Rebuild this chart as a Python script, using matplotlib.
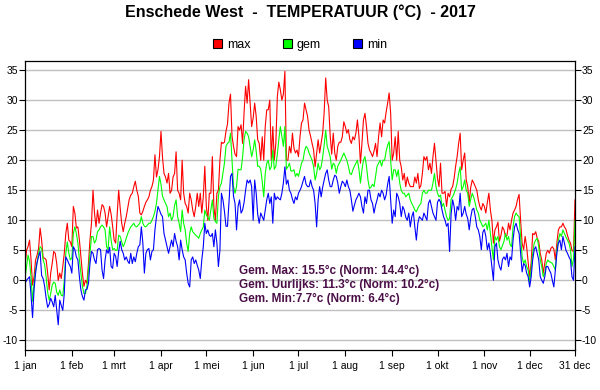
import matplotlib
matplotlib.use('Agg')
import matplotlib.pyplot as plt
from matplotlib.patches import Patch
import numpy as np

# ---- data (daily values, 2017) ----
max_t = [
    2.3, 5, 5.6, 6.7, 3.4, -0.8, 0.6, 3.4, 4.2, 5.3,
    8.7, 6.7, 3.7, 3.7, 3.4, 1.2, -1.6, 1.2, 2.8, 4.8,
    4.5, 2.8, 0, 1.2, 0.3, 2.3, 4.5, 7.8, 9.5, 6.7,
    6.4, 5.6, 12.3, 11.2, 8.7, 8.9, 6.7, 3.9, 1.2, -1,
    0, -0.5, 2.8, 6.7, 9.5, 15, 11.2, 8.9, 11.7, 9.5,
    11.2, 12.6, 12.3, 11.2, 8.9, 10.6, 12.3, 11, 9, 6.7,
    6.2, 11, 15, 12, 9.5, 8.1, 9.5, 10.6, 12, 13.5,
    14.2, 14.5, 15.6, 16.5, 15, 14, 11.2, 10.9, 11.5, 12.3,
    13, 13.4, 13.9, 15, 15.6, 16.7, 20.9, 17.2, 18.4, 20.6,
    24.8, 20.5, 17.8, 17.2, 16.2, 17.8, 14.5, 15, 17.2, 17.8,
    21.4, 15, 14.5, 13.4, 20, 14.5, 12.8, 12.3, 11.2, 14.5,
    13.4, 11.7, 10.6, 12.3, 14.5, 12.3, 14.5, 11.2, 13.9, 19,
    12.3, 10, 14.5, 14.5, 20.6, 12.3, 10, 14.5, 15, 20,
    23, 22.8, 23, 24.8, 26, 29.5, 31, 24, 22.3, 21,
    20.6, 25.6, 25, 25.9, 22.8, 28, 32.3, 29.5, 33.4, 29.5,
    25.6, 27, 29.5, 27.3, 23.4, 22.8, 20, 23.9, 20, 25.6,
    28.4, 28.4, 30, 20, 25.6, 20, 22.8, 30.6, 33, 31.7,
    30, 31, 34.8, 20, 20, 22.3, 21.2, 24.5, 22, 21.2,
    21.7, 20.6, 23.9, 26.2, 26.7, 29.5, 28.4, 27.3, 25, 24,
    22.8, 21.7, 18.9, 21.2, 23.4, 21.2, 22.8, 24.5, 28, 33.7,
    30, 28.9, 24, 21, 24.5, 21.2, 20, 22.3, 23, 23,
    23.9, 26.4, 25.6, 24.5, 25.1, 23.4, 22.8, 23.9, 23.4, 24.5,
    26.7, 24, 19.5, 22.8, 26.7, 27.8, 25.6, 22.8, 21.7, 21.2,
    20.6, 21.5, 22.8, 20.6, 23.9, 26.2, 23.9, 26.7, 26.2, 28,
    29.5, 31.2, 27.8, 20, 21.2, 23.9, 20, 24.8, 20, 18.9,
    16.7, 17.8, 15.6, 17.2, 16.2, 15.6, 15.6, 15.6, 17.2, 16.2,
    17.8, 15.3, 15.8, 17.8, 20.6, 20, 20.6, 18.4, 19.5, 17.8,
    20.6, 22.8, 20, 17, 15.6, 19.5, 14.5, 14.5, 14.8, 12.3,
    14.5, 13.9, 15.2, 15.6, 17, 19, 20.6, 22.8, 24.5, 18.4,
    20, 21.2, 16.7, 15.6, 13, 15.5, 16.7, 16.2, 15.6, 15,
    13.4, 12.3, 11.7, 12.8, 12.3, 11.2, 13, 14.5, 11.7, 10,
    6.2, 8.4, 8.9, 9.7, 6.5, 7.5, 8.9, 8.4, 7.3, 7.5,
    9.5, 8.4, 10, 11.2, 11.7, 12.3, 13.5, 14.3, 10, 6.2,
    5.1, 7.3, 5.6, 3, 0.6, 3, 7.8, 7.6, 8.1, 7,
    6.5, 4.5, 3.4, 1.2, 2.8, 4.5, 5, 4.5, 5.3, 5.6,
    5.2, 3.4, 6.2, 8.4, 8.9, 8.9, 9.5, 8.9, 8.5, 7.5,
    6.7, 6.2, 5, 4.8, 13.4,
]

gem_t = [
    0.3, 2.3, 4.2, 3.2, 0.5, -3.5, -0.5, 1.8, 3, 4.5,
    5.6, 5.3, 3.4, 2.6, 0.5, -2, -3.3, -2.2, -0.8, -0.3,
    -0.5, -2, -2.5, -1.6, -2.5, -2.6, 0, 4.5, 6.4, 4.5,
    3.4, 3.7, 7.8, 8.9, 7.8, 6.2, 3.4, 1.2, -1, -2.2,
    -2.2, -1, 1.7, 4.5, 7.3, 7.3, 6.2, 6.7, 8.1, 8.4,
    8.9, 9.2, 8.9, 8.4, 5.6, 5.1, 8.9, 6.7, 5.1, 5.3,
    5, 5, 7.5, 7.3, 6.4, 5.6, 6.2, 7, 7.8, 8.4,
    8.9, 9.2, 9.5, 9, 8.9, 9.2, 9.5, 10.6, 9.5, 9,
    8.9, 9.2, 9.5, 9.5, 10, 10.6, 11.5, 12.8, 15, 17.3,
    16, 14, 13.4, 12.8, 12.3, 10.6, 11.2, 10, 10.6, 12.5,
    13.4, 10.6, 9.5, 8.1, 11.7, 9.5, 8.4, 6.2, 4.8, 7.8,
    8.9, 8.1, 7.8, 7.5, 7.3, 7, 7.8, 8.4, 8.9, 11.7,
    10.9, 10.5, 10, 11.7, 13.4, 10.3, 9.8, 9.5, 14, 15.6,
    16.2, 17.8, 19.5, 22.3, 22.8, 23, 24.5, 20, 15.6, 14.5,
    15.6, 18.5, 18.4, 18.4, 20.5, 23.5, 24.8, 24.5, 23.9, 22.3,
    20.6, 21.7, 23.4, 21.5, 19, 19, 18.5, 16.5, 13.9, 17.8,
    19.5, 20, 18.4, 18.9, 21.7, 18.5, 19, 21, 23.5, 25.6,
    23.9, 22.3, 25.6, 18.5, 18.9, 19.5, 18.2, 18.2, 18.4, 17.3,
    17.8, 17.3, 18.4, 19.5, 20, 21.5, 22.3, 22, 21.2, 20.6,
    20, 18.9, 16.7, 17.8, 19.5, 18.4, 18.9, 20.5, 22.5, 25,
    22.3, 21.5, 20.5, 18.5, 19.5, 19.2, 17.8, 19, 19.5, 20,
    20.6, 21.2, 20.6, 20, 19, 17.8, 17.6, 18.4, 19, 19.5,
    20, 18.5, 16.2, 18.4, 20, 20.6, 19, 16.7, 15.3, 15.5,
    16, 15.6, 17.3, 19, 19.5, 20, 19, 20, 20, 21.5,
    22.5, 23.1, 20, 16.7, 18.4, 18.4, 17.3, 18.4, 16.2, 15,
    14.5, 14.5, 13.9, 14.2, 14.5, 13.4, 12.8, 12.3, 11.7, 11.4,
    12, 12.5, 12.8, 14.5, 15, 14.5, 14.5, 15, 15, 15,
    16.2, 17.8, 15.6, 14.5, 13.9, 14.2, 12.3, 12.8, 11.7, 10.6,
    10, 10.3, 13.5, 13.9, 14.5, 15.2, 16.2, 17.8, 18.9, 15,
    15.6, 16.7, 15, 14.5, 12.3, 13.5, 14.5, 13.8, 12.8, 11.7,
    11.2, 10, 9.5, 8.9, 9.2, 9.5, 8.4, 10, 7.8, 5.6,
    3.4, 7.3, 6.7, 7.3, 5.6, 5.1, 5.8, 6.5, 7.8, 6.7,
    7.3, 6, 5.6, 8.9, 10.6, 11.2, 10.8, 10.6, 7.3, 3.9,
    2.8, 3.4, 2.3, 1.7, -0.5, 2, 4.5, 6.2, 6.7, 7,
    5.6, 3.4, 2.3, 0.6, 1.2, 2.8, 3.4, 3.1, 3, 2.8,
    2.3, 1.7, 5.1, 6.7, 7.8, 7.3, 8.4, 7.8, 7.2, 6.7,
    6.2, 5.1, 2.3, 3.5, 10,
]

min_t = [
    -0.5, 0, 0.3, 0.6, -2.5, -6.2, -1.5, 1.2, 3, 4,
    4.8, 0.8, 0.3, -1, -3, -4.5, -4, -3, -3.6, -4.4,
    -2.5, -5, -7.4, -3.3, -4.2, -5, -2.2, 3.9, 3.4, 2.8,
    2.3, 1.2, 5.6, 5.1, 3.9, 3.4, 0.6, -1.6, -2.7, -3.3,
    -1.6, -1.5, -0.5, 2.8, 4.8, 4.5, 3.4, 2.8, 5.1, 5.3,
    5.1, 1.7, 0.3, 3.4, 5.1, 4.5, 5.5, 2.3, 2, 4.5,
    4, 2.3, 4.8, 6.5, 5.1, 4.5, 3.4, 3.9, 3.2, 2.8,
    4.5, 2.8, 3.9, 3.1, 4.5, 5.6, 5.9, 8.9, 6.2, 1.2,
    4.5, 5.1, 5.3, 3.4, 4.8, 5.1, 8.4, 10.6, 12.3, 11.7,
    11, 10.6, 7.8, 6.7, 5.6, 4.5, 5.6, 6.7, 5.6, 7.8,
    6.5, 5.6, 3.4, 6.7, 5.1, 3.9, 3.4, 1.2, -0.5, -1.1,
    3.4, 3.9, 2.8, 3.4, 2.5, 1.7, 0.3, 3.4, 5.6, 9.5,
    7.8, 8.4, 7.5, 7.3, 7.8, 5.6, 8.4, 6.2, 2.3, 5,
    14.5, 13.4, 11.5, 9, 9, 13, 17.3, 17.8, 14, 12.8,
    8.4, 12.3, 13.4, 11.2, 11.7, 13, 15, 16.7, 16.2, 16.7,
    15.6, 10, 16.7, 14.5, 11, 9.5, 11.2, 10.6, 10, 11.7,
    13.4, 14.5, 12.8, 13.9, 9.5, 14.5, 13.4, 13.9, 13.6, 13.4,
    14.5, 16.2, 18.9, 16, 16.7, 15, 14.5, 13.5, 12.8, 13.9,
    13.4, 14.5, 15, 15.6, 16.5, 17.3, 16, 15.6, 15.6, 16.7,
    15.6, 15, 12.8, 8.9, 13.4, 15.6, 13.9, 15.5, 16.7, 17.8,
    18.4, 16.7, 15.6, 15.6, 16.7, 17.5, 17.3, 16.2, 14.5, 15.6,
    16.5, 16.2, 15.6, 16.7, 15.6, 15, 13.4, 11.5, 12.5, 13.4,
    13.9, 14.5, 13.9, 12.3, 11.2, 13.9, 12.8, 15, 15, 13.4,
    12.8, 11.2, 12.5, 13.4, 14.5, 13.9, 15, 14.5, 13.4, 14.2,
    16, 17.3, 13.4, 9.5, 11.7, 10.6, 14.5, 13.9, 12.8, 10.6,
    12.3, 11.7, 10.5, 10, 11.2, 8.9, 10.6, 11.4, 8.9, 6.7,
    9.5, 10.6, 10.3, 10, 11.2, 10.6, 10, 12.8, 13.4, 12.3,
    11.2, 10.6, 10, 13, 13.5, 13, 11.7, 10.6, 10, 9,
    9.5, 4.8, 11, 13.4, 12.3, 10, 12.3, 11.7, 14.5, 10.6,
    11.2, 12.3, 11, 10.3, 8.4, 10.5, 11.8, 12, 10.6, 8.9,
    8.4, 7.3, 5.1, 8, 8.5, 7.3, 5.1, 6.2, 4.5, 2.3,
    0, 5.6, 6.2, 3.4, 2.3, 1.7, 3.5, 3.9, 3.4, 4.5,
    2.3, 3.9, 3.4, 6.7, 8.9, 9.5, 8.5, 7.8, 4.5, 1.4,
    2.8, 2.5, 1.2, 0.6, -1.1, 0.6, 3.4, 5.1, 5.6, 4.5,
    3.4, 0.6, 0, -0.5, 0.6, 2.3, 2.3, 1.7, 1.2, 0,
    -1.1, 1.7, 4.5, 6.2, 6.7, 5.1, 7.3, 6.2, 5, 4.5,
    3.9, 3.4, 0.6, 0, 5.6,
]

series_names = ['max', 'gem', 'min']
series_colors = ['#ff0000', '#00ff00', '#0000ff']
tick_days = [0, 31, 59, 90, 120, 151, 181, 212, 243, 273, 304, 334, 364]
tick_labels = ['1 jan', '1 feb', '1 mrt', '1 apr', '1 mei', '1 jun', '1 jul',
               '1 aug', '1 sep', '1 okt', '1 nov', '1 dec', '31 dec']
y_ticks = [-10, -5, 0, 5, 10, 15, 20, 25, 30, 35]
title = 'Enschede West  -  TEMPERATUUR (°C)  - 2017'
stats_lines = ['Gem. Max: 15.5°c (Norm: 14.4°c)',
               'Gem. Uurlijks: 11.3°c (Norm: 10.2°c)',
               'Gem. Min:7.7°c (Norm: 6.4°c)']

plt.rcParams['font.family'] = ['Liberation Sans', 'DejaVu Sans']
plt.rcParams['axes.unicode_minus'] = False

W, H = 600, 390
fig = plt.figure(figsize=(W / 100, H / 100), dpi=100)
fig.patch.set_facecolor('white')

left, right, top, bottom = 25, 575, 60.5, 350
ax = fig.add_axes([left / W, 1 - bottom / H, (right - left) / W, (bottom - top) / H])

days = np.arange(len(max_t))
for vals, col in zip([max_t, gem_t, min_t], series_colors):
    ax.plot(days, vals, color=col, lw=0.8, solid_joinstyle='round')

ax.set_xlim(0, 364)
ax.set_ylim(-11.6, 36.6)
ax.set_yticks(y_ticks)
ax.set_xticks(tick_days)
ax.set_xticklabels(tick_labels)
ax.yaxis.grid(True, color='#c0c0c0', lw=1)
ax.set_axisbelow(True)
ax.tick_params(axis='y', which='both', left=True, right=True, labelleft=True,
               labelright=True, direction='out', length=4, width=0.8, pad=1,
               labelsize=7.5)
ax.tick_params(axis='x', direction='out', length=4, width=0.8, pad=4, labelsize=7.5)
for sp in ax.spines.values():
    sp.set_linewidth(0.9)
    sp.set_color('black')

fig.text(0.5, 1 - 17.5 / H, title, ha='center', va='baseline', fontsize=11.5,
         fontweight='bold')

handles = [Patch(facecolor=c, edgecolor='black', lw=0.8) for c in series_colors]
fig.legend(handles, series_names, loc='center', bbox_to_anchor=(0.5, 1 - 45 / H),
           ncol=3, frameon=False, fontsize=9, handlelength=0.72, handleheight=0.72,
           handletextpad=0.42, columnspacing=2.55, borderpad=0)

for i, line in enumerate(stats_lines):
    fig.text(239 / W, 1 - (274 + 14 * i) / H, line, ha='left', va='baseline',
             fontsize=8.5, fontweight='bold', color='#4b0f48', zorder=10)

fig.savefig('out.png', dpi=100)
